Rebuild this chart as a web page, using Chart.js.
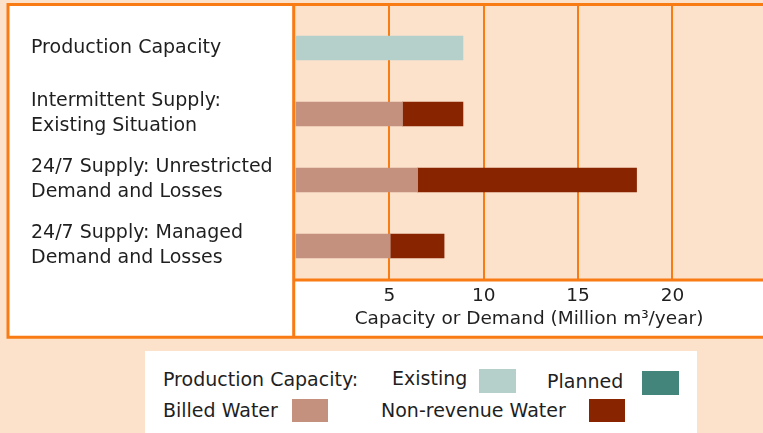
<!DOCTYPE html>
<html>
<head>
<meta charset="utf-8">
<script src="https://cdn.jsdelivr.net/npm/chart.js@4"></script>
<style>
  html, body { margin: 0; padding: 0; background: #FDE2CB; width: 763px; height: 433px; overflow: hidden; }
  #wrap { position: absolute; left: 0; top: 0; width: 763px; height: 345px; }
  #legend { position: absolute; left: 145px; top: 351px; width: 552px; height: 90px; background: #fff; }
  .lg { position: absolute; font-family: "DejaVu Sans", sans-serif; font-size: 19px; line-height: 22px; color: #1f1f1f; white-space: nowrap; }
  .sw { position: absolute; }
</style>
</head>
<body>
<div id="wrap"><canvas id="grafico"></canvas></div>
<div id="legend">
  <span class="lg" style="left:18px; top:17px;">Production Capacity:</span>
  <span class="lg" style="left:247px; top:16px;" id="lgExisting"></span>
  <span class="sw" style="left:334px; top:18px; width:37px; height:24px;" id="swExisting"></span>
  <span class="lg" style="left:402px; top:19px;" id="lgPlanned"></span>
  <span class="sw" style="left:497px; top:20px; width:37px; height:24px;" id="swPlanned"></span>
  <span class="lg" style="left:18px; top:48px;" id="lgBilled"></span>
  <span class="sw" style="left:147px; top:48px; width:36px; height:23px;" id="swBilled"></span>
  <span class="lg" style="left:236px; top:48px;" id="lgNrw"></span>
  <span class="sw" style="left:444px; top:48px; width:36px; height:23px;" id="swNrw"></span>
</div>
<script>
// categories (multi-line labels)
const categorias = [
    ['Production Capacity'],
    ['Intermittent Supply:', 'Existing Situation'],
    ['24/7 Supply: Unrestricted', 'Demand and Losses'],
    ['24/7 Supply: Managed', 'Demand and Losses']
];

// Million m3/year
const capacidadeExistente = [8.9, null, null, null];
const capacidadePlanejada = [null, null, null, null];
const aguaFaturada = [null, 5.7, 6.5, 5.05];
const aguaNaoFaturada = [null, 3.2, 11.6, 2.85];

const ticksX = [5, 10, 15, 20];

const corExistente = '#B5CFCB';
const corPlanejada = '#44857B';
const corFaturada = '#C4917F';
const corNaoFaturada = '#882400';
const laranja = '#F87B14';
const pessego = '#FDE2CB';
const fonte = '"DejaVu Sans", sans-serif';

// legend (html)
document.getElementById('lgExisting').textContent = 'Existing';
document.getElementById('lgPlanned').textContent = 'Planned';
document.getElementById('lgBilled').textContent = 'Billed Water';
document.getElementById('lgNrw').textContent = 'Non-revenue Water';
document.getElementById('swExisting').style.background = corExistente;
document.getElementById('swPlanned').style.background = corPlanejada;
document.getElementById('swBilled').style.background = corFaturada;
document.getElementById('swNrw').style.background = corNaoFaturada;

// panels and orange frame
const moldura = {
    id: 'moldura',
    beforeDraw(chart) {
        const c = chart.ctx;
        const a = chart.chartArea;
        c.save();
        c.fillStyle = '#ffffff';
        c.fillRect(8, 4, a.left - 8, 333);
        c.fillRect(a.left, a.bottom, chart.width - a.left, 337 - a.bottom);
        c.fillStyle = pessego;
        c.fillRect(a.left, 5, chart.width - a.left, a.bottom - 5);
        c.restore();
    },
    beforeDatasetsDraw(chart) {
        // extend grid lines up to the frame top
        const c = chart.ctx;
        const a = chart.chartArea;
        const x = chart.scales.x;
        c.save();
        c.strokeStyle = laranja;
        c.lineWidth = 2;
        ticksX.forEach(v => {
            const px = Math.round(x.getPixelForValue(v) - 1) + 1;
            c.beginPath();
            c.moveTo(px, 5);
            c.lineTo(px, a.top + 1);
            c.stroke();
        });
        c.restore();
    },
    afterDraw(chart) {
        const c = chart.ctx;
        const a = chart.chartArea;
        const w = chart.width;
        c.save();
        c.strokeStyle = laranja;
        c.lineWidth = 3;
        c.beginPath();
        c.moveTo(6.5, 4.5); c.lineTo(w, 4.5);
        c.moveTo(8, 3); c.lineTo(8, 338.8);
        c.moveTo(6.5, 337.3); c.lineTo(w, 337.3);
        c.moveTo(a.left - 1.3, 3); c.lineTo(a.left - 1.3, 338.8);
        c.moveTo(a.left - 1.3, a.bottom + 1); c.lineTo(w, a.bottom + 1);
        c.stroke();
        c.restore();
    }
};

const ctx = document.getElementById('grafico').getContext('2d');
const grafico = new Chart(ctx, {
    type: 'bar',

    data: {
        labels: categorias,

        datasets: [
            {
                label: 'Existing',
                data: capacidadeExistente,
                backgroundColor: corExistente
            },
            {
                label: 'Planned',
                data: capacidadePlanejada,
                backgroundColor: corPlanejada
            },
            {
                label: 'Billed Water',
                data: aguaFaturada,
                backgroundColor: corFaturada
            },
            {
                label: 'Non-revenue Water',
                data: aguaNaoFaturada,
                backgroundColor: corNaoFaturada
            }
        ]
    },

    options: {
        indexAxis: 'y',
        responsive: true,
        maintainAspectRatio: false,
        animation: false,
        barThickness: 24,
        borderWidth: 0,
        layout: {
            padding: { left: 31, top: 15, right: 0, bottom: 6 }
        },
        plugins: {
            legend: { display: false },
            tooltip: { enabled: false }
        },
        scales: {
            x: {
                stacked: true,
                min: 0,
                max: 24.8,
                afterFit(scale) { scale.height = 60; },
                border: { display: false },
                grid: {
                    color: c => c.tick && c.tick.value === 0 ? 'rgba(0,0,0,0)' : laranja,
                    lineWidth: 2,
                    drawTicks: false
                },
                ticks: {
                    stepSize: 5,
                    includeBounds: false,
                    padding: 6,
                    color: '#1f1f1f',
                    font: { family: fonte, size: 18.5 },
                    callback: v => ticksX.includes(v) ? String(v) : ''
                },
                title: {
                    display: true,
                    text: 'Capacity or Demand (Million m³/year)',
                    color: '#1f1f1f',
                    font: { family: fonte, size: 18.5 },
                    padding: { top: 0, bottom: 9 }
                }
            },
            y: {
                stacked: true,
                afterFit(scale) {
                    scale.width = 264;
                    scale.paddingTop = 0;
                    scale.paddingBottom = 0;
                },
                border: { display: false },
                grid: { display: false, drawTicks: false },
                ticks: {
                    crossAlign: 'far',
                    color: '#1f1f1f',
                    font: { family: fonte, size: 19, lineHeight: 1.32 }
                }
            }
        }
    },

    plugins: [moldura]
});
</script>
</body>
</html>
